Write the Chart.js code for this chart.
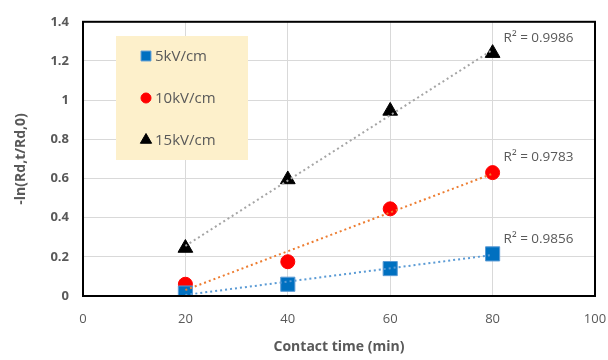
<!DOCTYPE html>
<html>
<head>
<meta charset="utf-8">
<script src="https://cdn.jsdelivr.net/npm/chart.js@4/dist/chart.umd.min.js"></script>
<style>
  html, body { margin: 0; padding: 0; background: #fff; }
  #wrap { width: 608px; height: 360px; }
</style>
</head>
<body>
<div id="wrap"><canvas id="c" width="608" height="360"></canvas></div>
<script>
// contact time (min)
const times = [20, 40, 60, 80];
// -ln(Rd,t/Rd,0)
const kv5 = [0.015, 0.06, 0.14, 0.215];
const kv10 = [0.06, 0.175, 0.445, 0.63];
const kv15 = [0.245, 0.595, 0.945, 1.24];
const seriesNames = ['5kV/cm', '10kV/cm', '15kV/cm'];
const r2Labels = ['R² = 0.9856', 'R² = 0.9783', 'R² = 0.9986'];

const GRAY = '#595959';
const FONT = '"Open Sans", "Liberation Sans", sans-serif';

// linear fit for the dotted trendlines
function fit(xs, ys) {
  const n = xs.length;
  const mx = xs.reduce((a, b) => a + b, 0) / n;
  const my = ys.reduce((a, b) => a + b, 0) / n;
  let sxy = 0, sxx = 0;
  for (let i = 0; i < n; i++) {
    sxy += (xs[i] - mx) * (ys[i] - my);
    sxx += (xs[i] - mx) * (xs[i] - mx);
  }
  const b = sxy / sxx;
  const a = my - b * mx;
  return [{ x: xs[0], y: a + b * xs[0] }, { x: xs[n - 1], y: a + b * xs[n - 1] }];
}

function pts(ys) {
  return times.map((t, i) => ({ x: t, y: ys[i] }));
}

const trendDs = (ys, color) => ({
  type: 'line',
  data: fit(times, ys),
  borderColor: color,
  borderWidth: 2,
  borderDash: [2, 3],
  pointRadius: 0,
  fill: false,
  order: 0
});

// frame around plot area + legend box + R² labels
const extras = {
  id: 'extras',
  afterDraw(chart) {
    const ctx = chart.ctx;
    const a = chart.chartArea;
    const xs = chart.scales.x, ys = chart.scales.y;
    ctx.save();
    ctx.strokeStyle = '#000';
    ctx.lineWidth = 2;
    ctx.strokeRect(a.left, a.top, a.right - a.left, a.bottom - a.top);

    // legend
    ctx.fillStyle = '#FDF0CB';
    ctx.fillRect(116, 36, 132, 124);
    const ds = chart.data.datasets;
    const legR = [7, 5, 6.5];
    ctx.font = '15px ' + FONT;
    ctx.textBaseline = 'middle';
    for (let i = 0; i < 3; i++) {
      const y = 56 + i * 42;
      const d = ds[i];
      ctx.fillStyle = d.backgroundColor;
      ctx.strokeStyle = d.borderColor;
      ctx.lineWidth = 1;
      Chart.helpers.drawPoint(ctx, { pointStyle: d.pointStyle, radius: legR[i], borderWidth: 1 }, 146, y);
      ctx.fillStyle = GRAY;
      ctx.textAlign = 'left';
      ctx.fillText(seriesNames[i], 155, y + 1);
    }

    // R² labels next to the last points
    const last = [kv5[3], kv10[3], kv15[3]];
    ctx.font = '13.5px ' + FONT;
    ctx.fillStyle = GRAY;
    for (let i = 0; i < 3; i++) {
      const px = xs.getPixelForValue(80) + 11;
      const py = ys.getPixelForValue(last[i]) - 15;
      ctx.fillText(r2Labels[i], px, py);
    }
    ctx.restore();
  }
};

new Chart(document.getElementById('c'), {
  type: 'scatter',
  data: {
    datasets: [
      {
        label: seriesNames[0],
        data: pts(kv5),
        pointStyle: 'rect',
        pointRadius: 10,
        backgroundColor: '#0070C0',
        borderColor: '#5B9BD5',
        borderWidth: 1,
        order: 1
      },
      {
        label: seriesNames[1],
        data: pts(kv10),
        pointStyle: 'circle',
        pointRadius: 7,
        backgroundColor: '#FF0000',
        borderColor: '#FF0000',
        borderWidth: 1,
        order: 1
      },
      {
        label: seriesNames[2],
        data: pts(kv15),
        pointStyle: 'triangle',
        pointRadius: 8.5,
        backgroundColor: '#000000',
        borderColor: '#000000',
        borderWidth: 1,
        order: 1
      },
      trendDs(kv5, '#5B9BD5'),
      trendDs(kv10, '#ED7D31'),
      trendDs(kv15, '#A5A5A5')
    ]
  },
  options: {
    responsive: false,
    animation: false,
    layout: { padding: { top: 14, right: 0, left: 0, bottom: 0 } },
    plugins: {
      legend: { display: false },
      tooltip: { enabled: false }
    },
    scales: {
      x: {
        type: 'linear',
        min: 0,
        max: 100,
        ticks: {
          stepSize: 20,
          color: GRAY,
          font: { family: FONT, size: 13 },
          padding: 15
        },
        grid: { color: '#D9D9D9', drawTicks: false },
        border: { display: false },
        title: {
          display: true,
          text: 'Contact time (min)',
          color: GRAY,
          font: { family: FONT, size: 14, weight: 'bold' },
          padding: { top: 2, bottom: 5 }
        },
        afterFit(s) { s.height = 64; s.paddingRight = 13; s.paddingLeft = 0; }
      },
      y: {
        min: 0,
        max: 1.4,
        ticks: {
          stepSize: 0.2,
          color: GRAY,
          font: { family: FONT, size: 13, weight: 'bold' },
          padding: 14,
          callback: v => String(Math.round(v * 10) / 10)
        },
        grid: { color: '#D9D9D9', drawTicks: false },
        border: { display: false },
        title: {
          display: true,
          text: '-ln(Rd,t/Rd,0)',
          color: GRAY,
          font: { family: FONT, size: 14, weight: 'bold' },
          padding: { top: 13, bottom: 0 }
        },
        afterFit(s) { s.width = 83; }
      }
    }
  },
  plugins: [extras]
});
</script>
</body>
</html>
